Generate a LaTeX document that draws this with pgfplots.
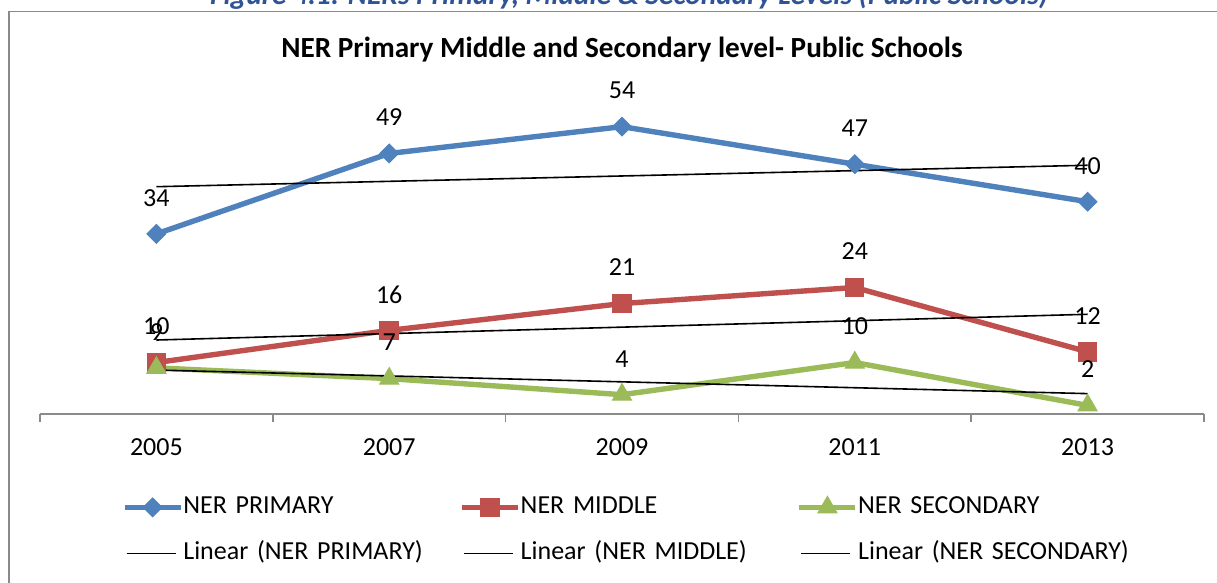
\documentclass[border=0pt]{standalone}
\usepackage{pgfplots}
\pgfplotsset{compat=1.18}
\usepackage{fontspec}
\setmainfont{Carlito}
\definecolor{cBlue}{HTML}{4F81BD}
\definecolor{cRed}{HTML}{C0504D}
\definecolor{cGreen}{HTML}{9BBB59}
\definecolor{cCap}{HTML}{2F5496}
\definecolor{cFrame}{HTML}{8A8A8A}
\newcommand{\chfont}{\fontsize{13}{15.6}\selectfont}
\begin{document}
\begin{tikzpicture}
\path[use as bounding box] (0,0) rectangle (608.5pt,291.5pt);
\clip (0,0) rectangle (608.5pt,291.5pt);
\draw[cFrame, line width=0.75pt] (4.5pt,285.75pt) rectangle (640pt,-20pt);
\node[anchor=base, text=cCap, font=\fontsize{14.7}{17}\selectfont\bfseries\itshape, inner sep=0pt] at (314.5pt,289pt) {Figure 4.1: NERs Primary, Middle \& Secondary Levels (Public Schools)};
\node[anchor=base, font=\fontsize{14.6}{17}\selectfont\bfseries, inner sep=0pt] at (311pt,262.5pt) {NER Primary Middle and Secondary level- Public Schools};
\begin{axis}[
  at={(20pt,84.5pt)}, anchor=south west,
  scale only axis, width=582pt, height=159.75pt,
  xmin=-0.5, xmax=4.5, ymin=0.4, ymax=60,
  clip=false,
  hide y axis,
  axis x line*=bottom,
  x axis line style={-, draw=cFrame, line width=0.7pt},
  xtick={0,1,2,3,4},
  xticklabels={2005,2007,2009,2011,2013},
  major x tick style={draw=none},
  minor xtick={-0.5,0.5,1.5,2.5,3.5,4.5},
  minor x tick style={draw=cFrame, line width=0.7pt},
  minor tick length=4pt,
  tick align=outside,
  xticklabel style={anchor=center, yshift=-12.5pt, font=\chfont, inner sep=0pt},
  /pgf/number format/assume math mode=true,
  nodes near coords,
  every node near coord/.style={anchor=center, yshift=18pt, text=black, font=\chfont, inner sep=0pt},
  legend columns=3,
  legend image code/.code={\draw[mark repeat=2,mark phase=2] plot coordinates {(0pt,0pt) (14pt,0pt) (28pt,0pt)};},
  legend style={at={(axis description cs:0.0704,-0.2516)}, anchor=north west, draw=none, fill=none, inner sep=0pt, outer sep=0pt, font=\chfont, row sep=10pt,
    nodes={text width=138pt, inner xsep=0pt, inner ysep=0pt, align=left, text height=9.5pt, text depth=3.5pt},
    /tikz/every odd column/.append style={column sep=0pt},
    /tikz/every even column/.append style={column sep=0pt}},
]
\addplot[cBlue, line width=2.7pt, mark=square*, mark size=3.3pt, mark options={rotate=45, solid, line width=0.5pt}] coordinates {(0,34) (1,49) (2,54) (3,47) (4,40)};
\addlegendentry{NER PRIMARY}
\addplot[cRed, line width=2.7pt, mark=square*, mark size=4.6pt, mark options={solid, line width=0.5pt}] coordinates {(0,10) (1,16) (2,21) (3,24) (4,12)};
\addlegendentry{NER MIDDLE}
\addplot[cGreen, line width=2.7pt, mark=triangle*, mark size=5.5pt, mark options={solid, line width=0.5pt}] coordinates {(0,9) (1,7) (2,4) (3,10) (4,2)};
\addlegendentry{NER SECONDARY}
\addplot[black, line width=0.8pt, no marks, nodes near coords={}, legend image code/.code={\draw (1pt,0pt) -- (25.5pt,0pt);}] coordinates {(0,42.8) (4,46.8)};
\addlegendentry{Linear (NER PRIMARY)}
\addplot[black, line width=0.8pt, no marks, nodes near coords={}, legend image code/.code={\draw (1pt,0pt) -- (25.5pt,0pt);}] coordinates {(0,14.2) (4,19.0)};
\addlegendentry{Linear (NER MIDDLE)}
\addplot[black, line width=0.8pt, no marks, nodes near coords={}, legend image code/.code={\draw (1pt,0pt) -- (25.5pt,0pt);}] coordinates {(0,8.6) (4,4.2)};
\addlegendentry{Linear (NER SECONDARY)}
\end{axis}
\end{tikzpicture}
\end{document}
